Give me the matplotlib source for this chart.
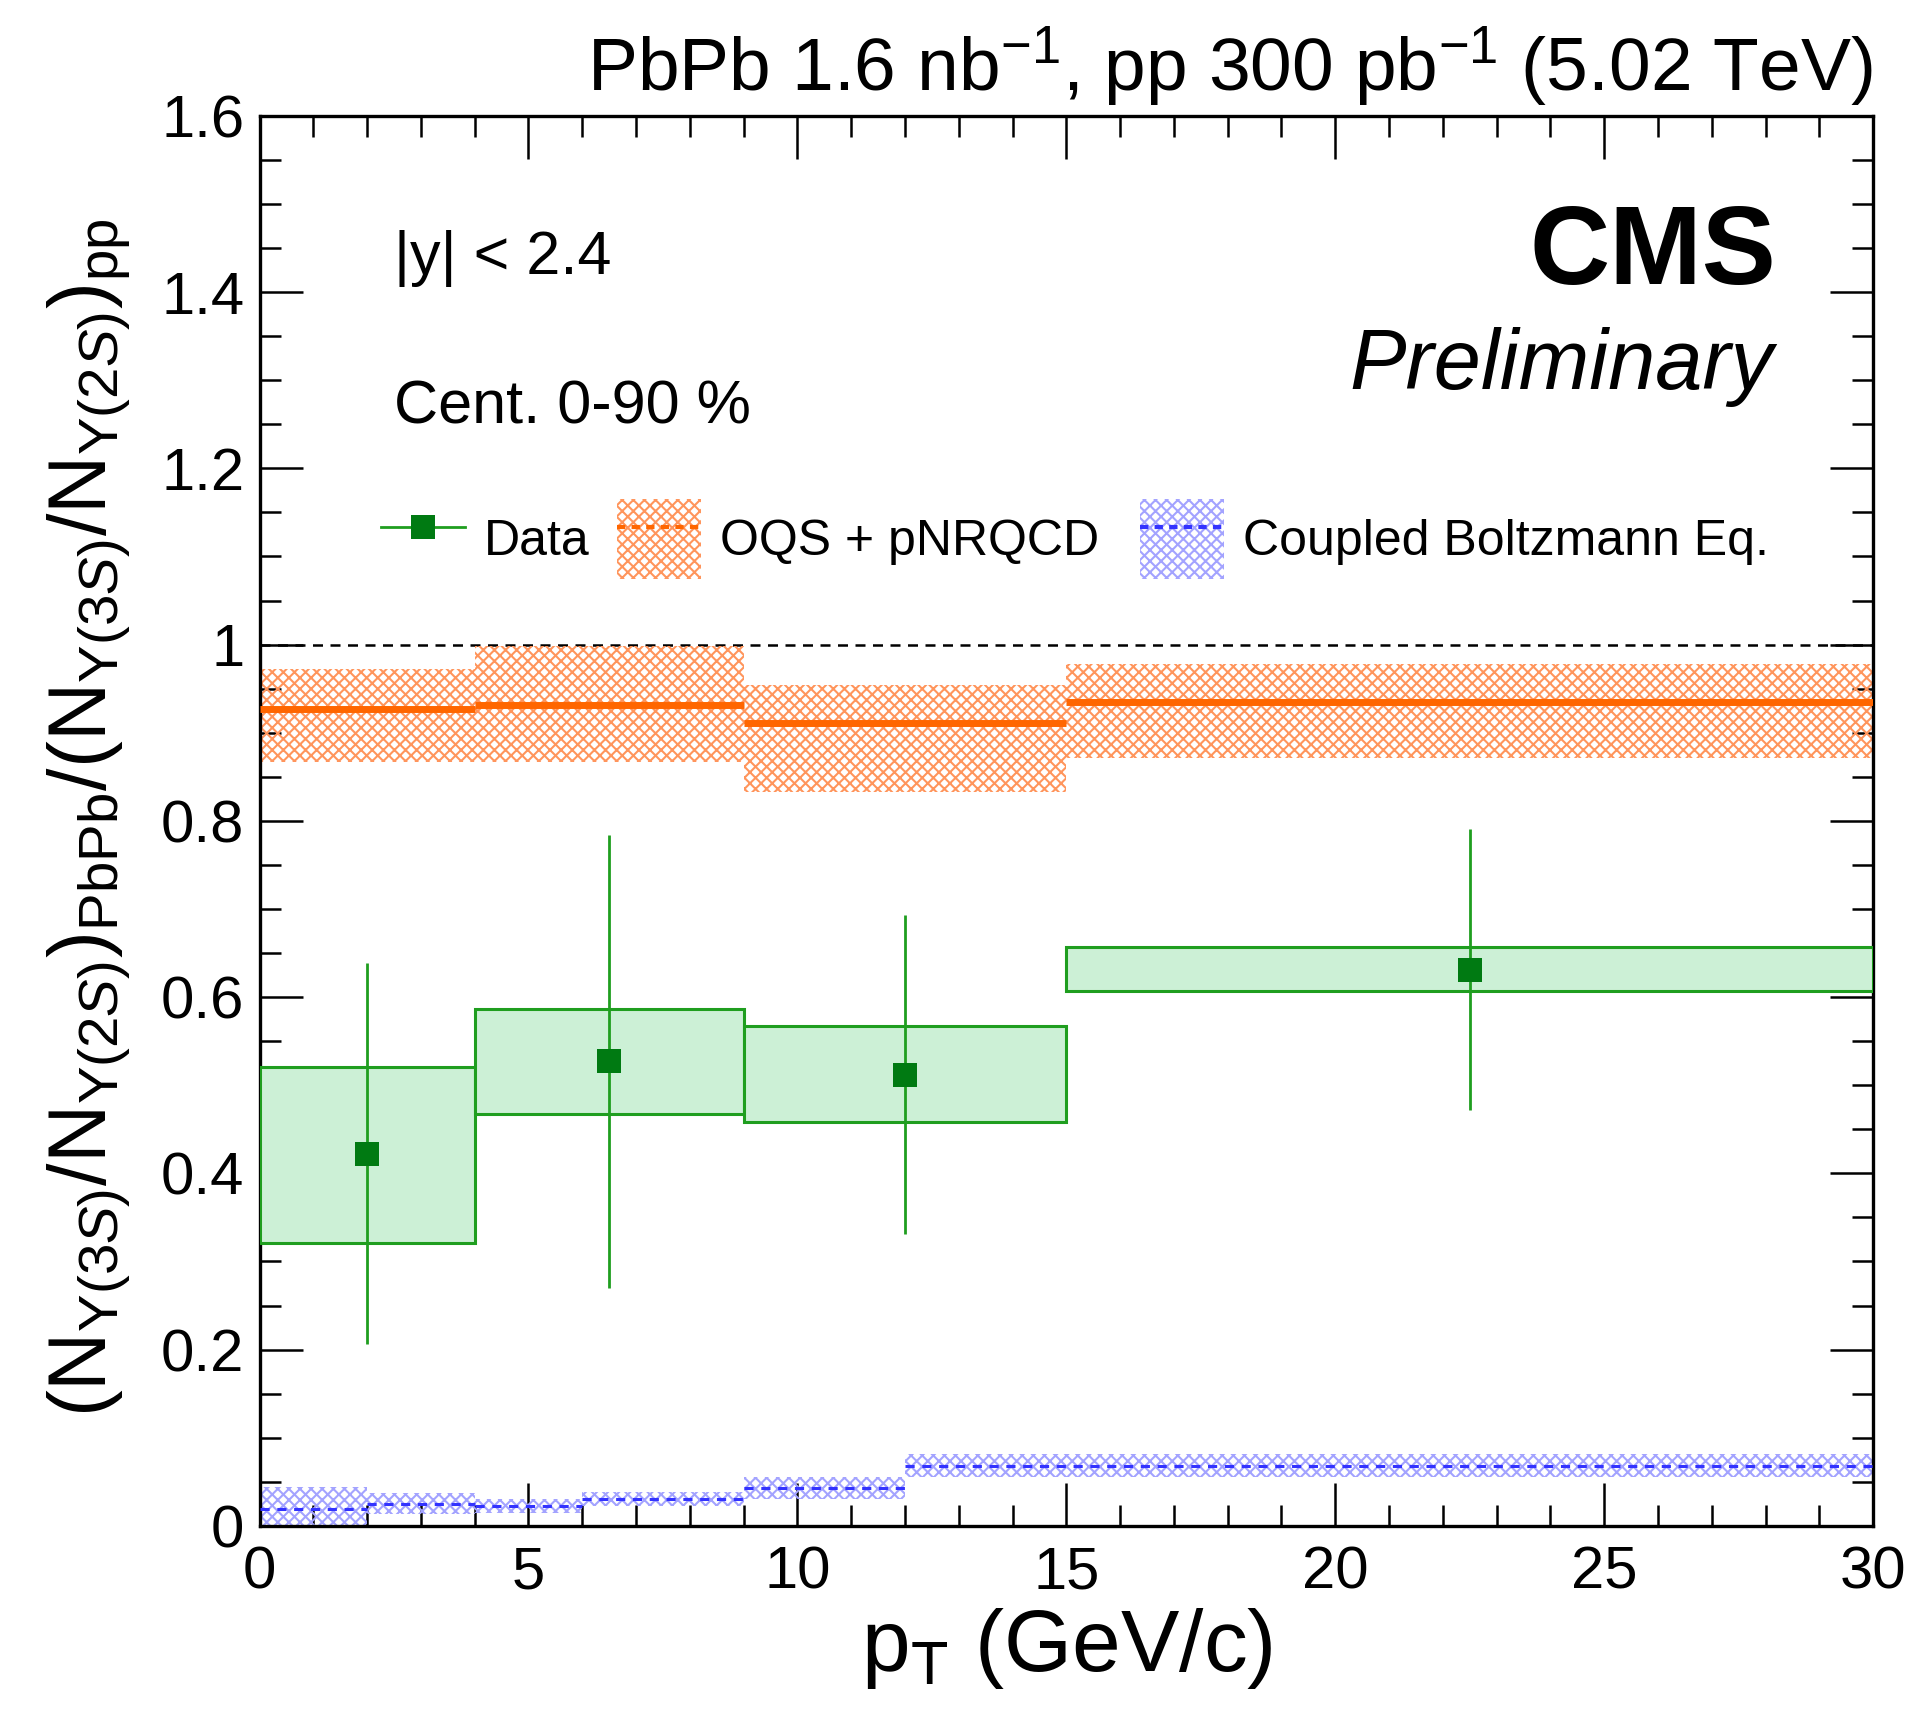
import matplotlib
matplotlib.use("Agg")
import matplotlib.pyplot as plt
from matplotlib.patches import Patch
from matplotlib.lines import Line2D
from matplotlib.ticker import MultipleLocator, FuncFormatter
import numpy as np

# Data
data_edges = [0, 4, 9, 15, 30]
data_x = [2, 6.5, 12, 22.5]
data_y = [0.422, 0.527, 0.512, 0.631]
stat_lo = [0.206, 0.270, 0.331, 0.472]
stat_hi = [0.639, 0.784, 0.693, 0.791]
syst_lo = [0.321, 0.467, 0.458, 0.607]
syst_hi = [0.521, 0.586, 0.567, 0.657]

# OQS + pNRQCD
oqs_edges = [0, 4, 9, 15, 30]
oqs_val = [0.927, 0.931, 0.911, 0.935]
oqs_lo = [0.867, 0.867, 0.833, 0.871]
oqs_hi = [0.972, 0.998, 0.954, 0.978]

# Coupled Boltzmann Eq.
cbe_edges = [0, 2, 4, 6, 9, 12, 30]
cbe_val = [0.019, 0.025, 0.022, 0.030, 0.043, 0.068]
cbe_lo = [0.0, 0.013, 0.015, 0.023, 0.030, 0.055]
cbe_hi = [0.044, 0.037, 0.030, 0.038, 0.056, 0.081]

plt.rcParams['font.family'] = 'Liberation Sans'
plt.rcParams['mathtext.fontset'] = 'custom'
plt.rcParams['mathtext.rm'] = 'Liberation Sans'
plt.rcParams['mathtext.it'] = 'Liberation Sans:italic'
plt.rcParams['mathtext.bf'] = 'Liberation Sans:bold'
plt.rcParams['hatch.linewidth'] = 1.5

green_edge = '#1f9e1f'
green_fill = '#ccf0d6'
green_mark = '#007a12'
orange = '#ff6600'
orange_hatch = '#ff955c'
blue = '#3333ff'
blue_hatch = '#a3a3ff'

fig = plt.figure(figsize=(19.11, 17.11), dpi=100)
ax = fig.add_axes([0.1358, 0.1082, 0.8444, 0.8241])

ax.set_xlim(0, 30)
ax.set_ylim(0, 1.6)

# reference line at 1
ax.axhline(1.0, color='black', lw=1.8, ls=(0, (4, 3)), zorder=1)

# OQS band + central line
for i in range(len(oqs_val)):
    x0, x1 = oqs_edges[i], oqs_edges[i + 1]
    ax.fill_between([x0, x1], oqs_lo[i], oqs_hi[i], facecolor='none',
                    edgecolor=orange_hatch, hatch='xxx', linewidth=0, zorder=2)
    ax.plot([x0, x1], [oqs_val[i], oqs_val[i]], color=orange, lw=5, zorder=3,
            solid_capstyle='butt')

# Boltzmann band + dashed line
for i in range(len(cbe_val)):
    x0, x1 = cbe_edges[i], cbe_edges[i + 1]
    ax.fill_between([x0, x1], cbe_lo[i], cbe_hi[i], facecolor='none',
                    edgecolor=blue_hatch, hatch='xxx', linewidth=0, zorder=2)
    ax.plot([x0, x1], [cbe_val[i], cbe_val[i]], color=blue, lw=2.2,
            ls=(0, (3, 2.5)), zorder=3)

# Data: syst boxes
widths = np.diff(data_edges)
heights = np.array(syst_hi) - np.array(syst_lo)
ax.bar(data_edges[:-1], heights, width=widths, bottom=syst_lo, align='edge',
       facecolor=green_fill, edgecolor=green_edge, linewidth=2.2, zorder=4)

# Data: stat errors + points
yerr = [np.array(data_y) - np.array(stat_lo), np.array(stat_hi) - np.array(data_y)]
ax.errorbar(data_x, data_y, yerr=yerr, fmt='none', ecolor=green_edge,
            elinewidth=2.0, capsize=0, zorder=5)
ax.plot(data_x, data_y, 's', color=green_mark, markersize=17, zorder=6,
        markeredgewidth=0)

# axes style (ROOT like)
ax.xaxis.set_major_locator(MultipleLocator(5))
ax.xaxis.set_minor_locator(MultipleLocator(1))
ax.yaxis.set_major_locator(MultipleLocator(0.2))
ax.yaxis.set_minor_locator(MultipleLocator(0.05))
ax.yaxis.set_major_formatter(FuncFormatter(lambda v, p: '%g' % round(v, 2)))
ax.xaxis.set_major_formatter(FuncFormatter(lambda v, p: '%g' % v))
ax.tick_params(which='both', direction='in', top=True, right=True, width=1.8,
               labelsize=43)
ax.tick_params(which='major', length=31)
ax.tick_params(which='minor', length=15)
ax.tick_params(axis='x', which='major', pad=14)
ax.tick_params(axis='y', which='major', pad=11)
for s in ax.spines.values():
    s.set_linewidth(2.4)

ax.set_xlabel(r'p$_{\mathrm{T}}$ (GeV/c)', fontsize=63, labelpad=4)
fig.text(0.047, 0.522,
         r'$(\mathrm{N}_{\Upsilon(3S)}/\mathrm{N}_{\Upsilon(2S)})_{\mathrm{PbPb}}'
         r'/(\mathrm{N}_{\Upsilon(3S)}/\mathrm{N}_{\Upsilon(2S)})_{\mathrm{pp}}$',
         rotation=90, fontsize=58, ha='center', va='center')

# texts
ax.text(1.0, 1.0176, r'PbPb 1.6 nb$^{-1}$, pp 300 pb$^{-1}$ (5.02 TeV)',
        transform=ax.transAxes, ha='right', va='baseline', fontsize=54)
ax.text(0.940, 0.881, 'CMS', transform=ax.transAxes, ha='right', va='baseline',
        fontsize=80, fontweight='bold')
ax.text(0.938, 0.806, 'Preliminary', transform=ax.transAxes, ha='right',
        va='baseline', fontsize=61, style='italic')
ax.text(0.0833, 0.888, '|y| < 2.4', transform=ax.transAxes, va='baseline', fontsize=44)
ax.text(0.0833, 0.782, 'Cent. 0-90 %', transform=ax.transAxes, va='baseline', fontsize=44)

# legend
h_data = Line2D([], [], color=green_edge, lw=2.0, marker='s', markersize=17,
                markerfacecolor=green_mark, markeredgewidth=0)
h_oqs = (Patch(facecolor='none', edgecolor=orange_hatch, hatch='xxx', linewidth=0),
         Line2D([], [], color=orange, lw=3, ls=(0, (2, 1.5))))
h_cbe = (Patch(facecolor='none', edgecolor=blue_hatch, hatch='xxx', linewidth=0),
         Line2D([], [], color=blue, lw=3, ls=(0, (2, 1.5))))
ax.legend([h_data, h_oqs, h_cbe], ['Data', 'OQS + pNRQCD ', 'Coupled Boltzmann Eq.'],
          loc='center left', bbox_to_anchor=(0.075, 0.70), ncol=3, frameon=False,
          fontsize=36, handlelength=1.68, handleheight=2.1, handletextpad=0.38,
          columnspacing=0.55, borderpad=0, borderaxespad=0)

plt.savefig('out.png', dpi=100)
